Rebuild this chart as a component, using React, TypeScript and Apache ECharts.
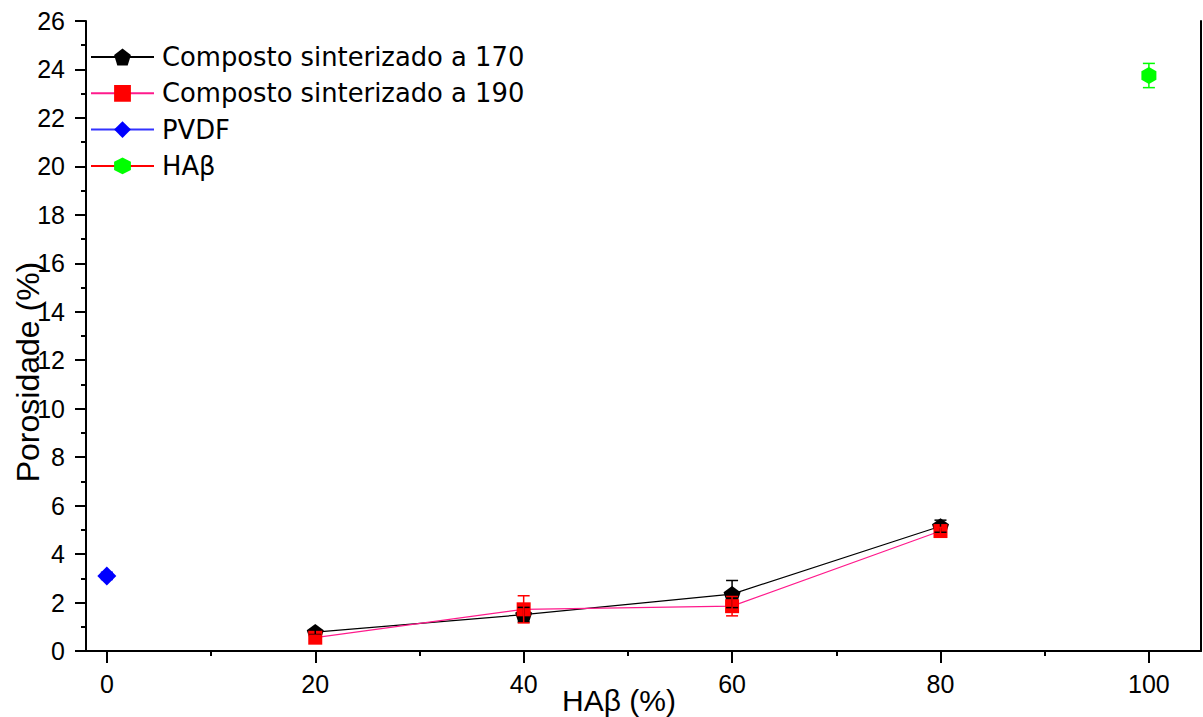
import React, { useEffect, useRef } from "react";
import * as echarts from "echarts";

// ---- data ----
const compX = [20, 40, 60, 80];
const comp170 = [0.78, 1.5, 2.35, 5.15];
const comp170Err = [0.1, 0.3, 0.56, 0.25];
const comp190 = [0.55, 1.72, 1.85, 4.95];
const comp190Err = [0.1, 0.56, 0.4, 0.15];
const pvdfX = [0];
const pvdf = [3.1];
const pvdfErr = [0.15];
const habX = [100];
const hab = [23.75];
const habErr = [0.5];

const xMajorTicks = [0, 20, 40, 60, 80, 100];
const xMinorTicks = [10, 30, 50, 70, 90];

const seriesNames = [
  "Composto sinterizado a 170",
  "Composto sinterizado a 190",
  "PVDF",
  "HAβ",
];
const xTitle = "HAβ (%)";
const yTitle = "Porosidade (%)";

const PENTAGON = "path://M50,0 L97.55,34.55 L79.39,90.45 L20.61,90.45 L2.45,34.55 Z";
const HEXAGON = "path://M50,0 L93.3,25 L93.3,75 L50,100 L6.7,75 L6.7,25 Z";

const FONT = "Liberation Sans";

function pts(xs: number[], ys: number[]) {
  return xs.map((x, i) => [x, ys[i]]);
}
function errPts(xs: number[], ys: number[], es: number[]) {
  return xs.map((x, i) => [x, ys[i] - es[i], ys[i] + es[i]]);
}

function errorSeries(name: string, data: number[][], color: string) {
  return {
    type: "custom",
    name: name + "_err",
    z: 5,
    data,
    renderItem: (params: any, api: any) => {
      const x = api.value(0);
      const lo = api.value(1);
      const hi = api.value(2);
      const top = api.coord([x, hi]);
      const bot = api.coord([x, lo]);
      const hw = 6;
      const st = { stroke: color, lineWidth: 1.5 };
      return {
        type: "group",
        children: [
          { type: "line", shape: { x1: top[0], y1: top[1], x2: bot[0], y2: bot[1] }, style: st },
          { type: "line", shape: { x1: top[0] - hw, y1: top[1], x2: top[0] + hw, y2: top[1] }, style: st },
          { type: "line", shape: { x1: bot[0] - hw, y1: bot[1], x2: bot[0] + hw, y2: bot[1] }, style: st },
        ],
      };
    },
  };
}

export default function App() {
  const ref = useRef<HTMLDivElement>(null);
  useEffect(() => {
    document.body.style.margin = "0";
    const chart = echarts.init(ref.current!, null, { renderer: "svg" });
    const axisLineStyle = { color: "#000", width: 2 };
    chart.setOption({
      animation: false,
      backgroundColor: "#fff",
      grid: { left: 86, right: 2, top: 21, bottom: 66, containLabel: false },
      xAxis: [
        {
          type: "value",
          min: -2,
          max: 105,
          axisLine: { show: true, onZero: false, lineStyle: axisLineStyle },
          axisTick: { show: true, length: 12, lineStyle: axisLineStyle, customValues: xMajorTicks },
          axisLabel: {
            show: true,
            customValues: xMajorTicks,
            color: "#000",
            fontFamily: FONT,
            fontSize: 25,
            margin: 20,
          },
          splitLine: { show: false },
        },
        {
          type: "value",
          min: -2,
          max: 105,
          position: "bottom",
          axisLine: { show: false, onZero: false },
          axisTick: { show: true, length: 5, lineStyle: axisLineStyle, customValues: xMinorTicks },
          axisLabel: { show: false, customValues: xMinorTicks },
          splitLine: { show: false },
        },
      ],
      yAxis: [
        {
          type: "value",
          min: 0,
          max: 26,
          interval: 2,
          position: "left",
          axisLine: { show: true, onZero: false, lineStyle: axisLineStyle },
          axisTick: { show: true, length: 11, lineStyle: axisLineStyle },
          minorTick: { show: true, splitNumber: 2, length: 5, lineStyle: axisLineStyle },
          axisLabel: { color: "#000", fontFamily: FONT, fontSize: 25, margin: 21 },
          splitLine: { show: false },
        },
        {
          type: "value",
          min: 0,
          max: 26,
          position: "right",
          axisLine: { show: true, onZero: false, lineStyle: axisLineStyle },
          axisTick: { show: false },
          axisLabel: { show: false },
          splitLine: { show: false },
        },
      ],
      legend: {
        data: seriesNames,
        orient: "vertical",
        left: 90,
        top: 44,
        padding: 0,
        itemWidth: 63,
        itemHeight: 21,
        itemGap: 10.3,
        textStyle: {
          fontFamily: "DejaVu Sans",
          fontSize: 25.8,
          color: "#000",
          lineHeight: 26,
          padding: [0, 0, 0, 3],
        },
      },
      series: [
        {
          name: seriesNames[0],
          type: "line",
          data: pts(compX, comp170),
          symbol: PENTAGON,
          symbolSize: [17, 16],
          itemStyle: { color: "#000" },
          lineStyle: { color: "#000", width: 1.2 },
          z: 2,
        },
        {
          name: seriesNames[1],
          type: "line",
          data: pts(compX, comp190),
          symbol: "rect",
          symbolSize: 14,
          itemStyle: { color: "#FF0000" },
          lineStyle: { color: "#FF1A8C", width: 1.2 },
          z: 3,
        },
        {
          name: seriesNames[2],
          type: "line",
          data: pts(pvdfX, pvdf),
          symbol: "diamond",
          symbolSize: [19, 19],
          itemStyle: { color: "#0000FF" },
          lineStyle: { color: "#3333FF", width: 1.2 },
          z: 3,
        },
        {
          name: seriesNames[3],
          type: "line",
          data: pts(habX, hab),
          symbol: HEXAGON,
          symbolSize: [15, 17],
          itemStyle: { color: "#00FF00" },
          lineStyle: { color: "#FF0000", width: 1.2 },
          z: 3,
        },
        errorSeries(seriesNames[0], errPts(compX, comp170, comp170Err), "#000"),
        errorSeries(seriesNames[1], errPts(compX, comp190, comp190Err), "#FF0000"),
        errorSeries(seriesNames[2], errPts(pvdfX, pvdf, pvdfErr), "#0000FF"),
        errorSeries(seriesNames[3], errPts(habX, hab, habErr), "#00FF00"),
      ],
      graphic: [
        {
          type: "text",
          x: 28,
          y: 372,
          rotation: Math.PI / 2,
          style: {
            text: yTitle,
            fontSize: 32,
            fontFamily: FONT,
            fill: "#000",
            align: "center",
            verticalAlign: "middle",
          },
        },
        {
          type: "text",
          x: 619,
          y: 700,
          style: {
            text: xTitle,
            fontSize: 30,
            fontFamily: FONT,
            fill: "#000",
            align: "center",
            verticalAlign: "middle",
          },
        },
      ],
    });
    return () => chart.dispose();
  }, []);
  return (
    <div
      ref={ref}
      style={{ position: "absolute", left: 0, top: 0, width: 1203, height: 717 }}
    />
  );
}
